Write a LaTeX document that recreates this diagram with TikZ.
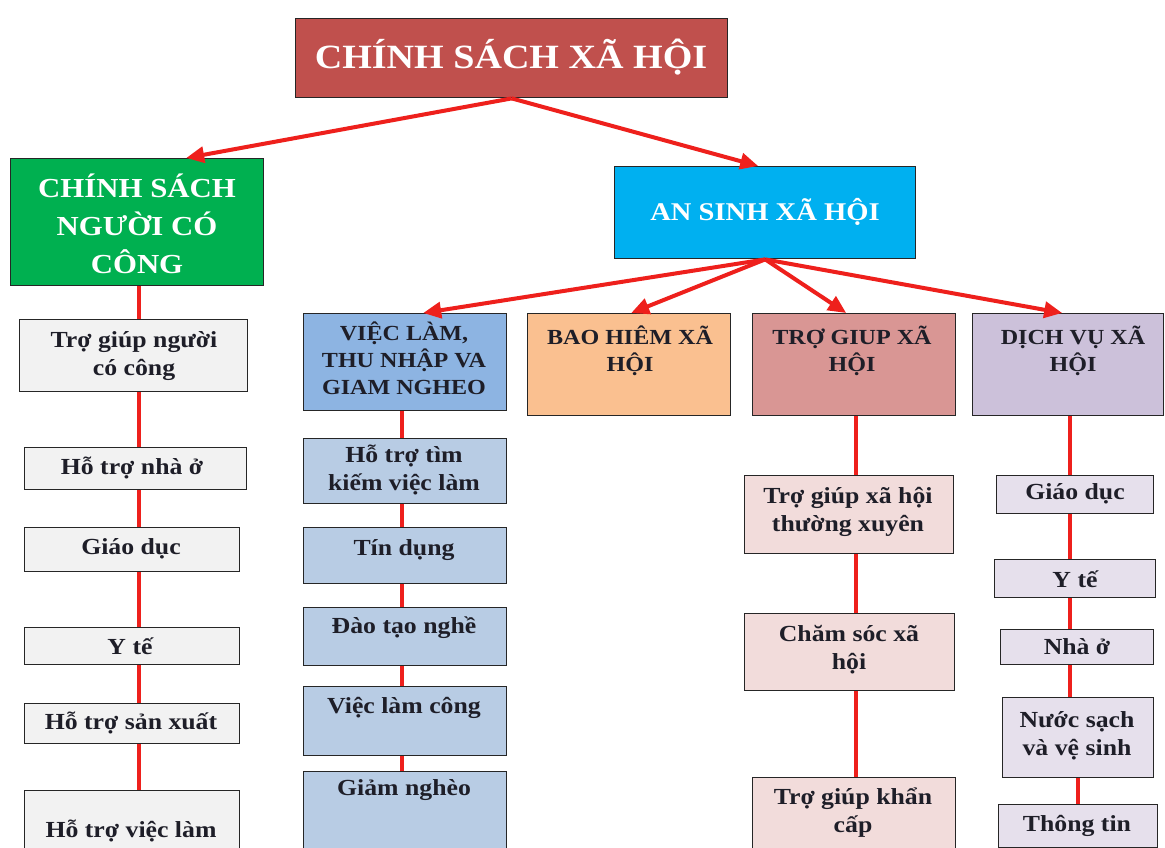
\documentclass[tikz,border=0pt]{standalone}
\usepackage{fontspec}
\setmainfont{Liberation Serif}[FakeStretch=1.12]
\usetikzlibrary{arrows.meta}
\definecolor{cTitle}{HTML}{C0504D}
\definecolor{cGreen}{HTML}{00B050}
\definecolor{cCyan}{HTML}{00B0F0}
\definecolor{cVLh}{HTML}{8DB4E2}
\definecolor{cVL}{HTML}{B8CCE4}
\definecolor{cBH}{HTML}{FAC090}
\definecolor{cTGh}{HTML}{D99694}
\definecolor{cTG}{HTML}{F2DCDB}
\definecolor{cDVh}{HTML}{CCC1DA}
\definecolor{cDV}{HTML}{E6E0EC}
\definecolor{cGray}{HTML}{F2F2F2}
\definecolor{cRed}{RGB}{238,32,28}
\definecolor{cInk}{HTML}{1E1E28}
\newcommand\mkbox[6]{\node[boxst, fill=#6, minimum width={(#4-#2)*1pt}, minimum height={(#5-#3)*1pt}] (#1) at (#2,#3) {};}
\begin{document}
\begin{tikzpicture}[x=1pt,y=-1pt,
  boxst/.style={draw=black!85, line width=1.4pt, inner sep=0pt, anchor=north west},
  ttl/.style={text=white, align=center, inner sep=0pt, font=\fontsize{34}{40}\selectfont\bfseries},
  grn/.style={text=white, align=center, inner sep=0pt, font=\fontsize{27.5}{38}\selectfont\bfseries},
  asn/.style={text=white, align=center, inner sep=0pt, font=\fontsize{25.5}{30}\selectfont\bfseries},
  sub/.style={text=cInk, align=center, inner sep=0pt, font=\fontsize{21.5}{27}\selectfont\bfseries},
  leaf/.style={text=cInk, align=center, inner sep=0pt, font=\fontsize{23}{28}\selectfont\bfseries},
  arr/.style={draw=cRed, line width=4pt, -{Triangle[length=18pt,width=16pt]}},
  vln/.style={draw=cRed, line width=4pt}]
\useasboundingbox (0,0) rectangle (1165,848);
\clip (0,0) rectangle (1165,848);
\fill[white] (0,0) rectangle (1165,848);
% boxes
\mkbox{top}{295}{18}{727}{97}{cTitle}
\mkbox{grn}{10}{158}{263}{285}{cGreen}
\mkbox{asxh}{614}{166}{915}{258}{cCyan}
\mkbox{vl}{303}{313}{506}{410}{cVLh}
\mkbox{bh}{527}{313}{730}{415}{cBH}
\mkbox{tg}{752}{313}{955}{415}{cTGh}
\mkbox{dv}{972}{313}{1163}{415}{cDVh}
% column 1
\mkbox{a1}{19}{319}{247}{391}{cGray}
\mkbox{a2}{24}{447}{246}{489}{cGray}
\mkbox{a3}{24}{527}{239}{571}{cGray}
\mkbox{a4}{24}{627}{239}{664}{cGray}
\mkbox{a5}{24}{703}{239}{743}{cGray}
\mkbox{a6}{24}{790}{239}{870}{cGray}
% column 2
\mkbox{b1}{303}{438}{506}{503}{cVL}
\mkbox{b2}{303}{527}{506}{583}{cVL}
\mkbox{b3}{303}{607}{506}{665}{cVL}
\mkbox{b4}{303}{686}{506}{755}{cVL}
\mkbox{b5}{303}{771}{506}{870}{cVL}
% column 3
\mkbox{c1}{744}{475}{953}{553}{cTG}
\mkbox{c2}{744}{613}{954}{690}{cTG}
\mkbox{c3}{752}{777}{955}{870}{cTG}
% column 4
\mkbox{d1}{996}{475}{1153}{513}{cDV}
\mkbox{d2}{994}{559}{1155}{597}{cDV}
\mkbox{d3}{1000}{629}{1153}{664}{cDV}
\mkbox{d4}{1002}{697}{1153}{777}{cDV}
\mkbox{d5}{998}{804}{1157}{847}{cDV}
% line guides
\coordinate (xa) at (139,0);
\coordinate (xb) at (402,0);
\coordinate (xc) at (856,0);
\coordinate (xd) at (1070,0);
\coordinate (xe) at (1078,0);
% vertical connectors
\draw[vln] (grn.south -| xa) -- (a1.north -| xa);
\draw[vln] (a1.south -| xa) -- (a2.north -| xa);
\draw[vln] (a2.south -| xa) -- (a3.north -| xa);
\draw[vln] (a3.south -| xa) -- (a4.north -| xa);
\draw[vln] (a4.south -| xa) -- (a5.north -| xa);
\draw[vln] (a5.south -| xa) -- (a6.north -| xa);
\draw[vln] (vl.south -| xb) -- (b1.north -| xb);
\draw[vln] (b1.south -| xb) -- (b2.north -| xb);
\draw[vln] (b2.south -| xb) -- (b3.north -| xb);
\draw[vln] (b3.south -| xb) -- (b4.north -| xb);
\draw[vln] (b4.south -| xb) -- (b5.north -| xb);
\draw[vln] (tg.south -| xc) -- (c1.north -| xc);
\draw[vln] (c1.south -| xc) -- (c2.north -| xc);
\draw[vln] (c2.south -| xc) -- (c3.north -| xc);
\draw[vln] (dv.south -| xd) -- (d1.north -| xd);
\draw[vln] (d1.south -| xd) -- (d2.north -| xd);
\draw[vln] (d2.south -| xd) -- (d3.north -| xd);
\draw[vln] (d3.south -| xd) -- (d4.north -| xd);
\draw[vln] (d4.south -| xe) -- (d5.north -| xe);
% arrows
\draw[arr] (top.south) -- ([xshift=49pt]grn.north);
\draw[arr] (top.south) -- ([xshift=-7pt]asxh.north);
\draw[arr] (asxh.south) -- ([xshift=18pt]vl.north);
\draw[arr] (asxh.south) -- ([xshift=2pt]bh.north);
\draw[arr] (asxh.south) -- ([xshift=-8pt]tg.north);
\draw[arr] (asxh.south) -- ([xshift=-6pt]dv.north);
% texts
\node[ttl] (ttop) at (511,57) {CHÍNH SÁCH XÃ HỘI};
\node[grn] (tgrn) at (137,224) {CHÍNH SÁCH\\NGƯỜI CÓ\\CÔNG};
\node[asn] (tasxh) at (765,212) {AN SINH XÃ HỘI};
\node[sub] (tvl) at (404,358) {VIỆC LÀM,\\THU NHẬP VA\\GIAM NGHEO};
\node[sub] (tbh) at (630,351) {BAO HIÊM XÃ\\HỘI};
\node[sub] (ttg) at (852,351) {TRỢ GIUP XÃ\\HỘI};
\node[sub] (tdv) at (1073,351) {DỊCH VỤ XÃ\\HỘI};
\node[leaf] (ta1) at (134,356) {Trợ giúp người\\có công};
\node[leaf] (ta2) at (132,468) {Hỗ trợ nhà ở};
\node[leaf] (ta3) at (131,549) {Giáo dục};
\node[leaf] (ta4) at (130,646) {Y tế};
\node[leaf] (ta5) at (131,723) {Hỗ trợ sản xuất};
\node[leaf] (ta6) at (131,831) {Hỗ trợ việc làm};
\node[leaf] (tb1) at (404,470) {Hỗ trợ tìm\\kiếm việc làm};
\node[leaf] (tb2) at (404,550) {Tín dụng};
\node[leaf] (tb3) at (404,628) {Đào tạo nghề};
\node[leaf] (tb4) at (404,708) {Việc làm công};
\node[leaf] (tb5) at (404,790) {Giảm nghèo};
\node[leaf] (tc1) at (848,512) {Trợ giúp xã hội\\thường xuyên};
\node[leaf] (tc2) at (849,650) {Chăm sóc xã\\hội};
\node[leaf] (tc3) at (853,813) {Trợ giúp khẩn\\cấp};
\node[leaf] (td1) at (1075,494) {Giáo dục};
\node[leaf] (td2) at (1075,579) {Y tế};
\node[leaf] (td3) at (1077,647) {Nhà ở};
\node[leaf] (td4) at (1077,736) {Nước sạch\\và vệ sinh};
\node[leaf] (td5) at (1077,826) {Thông tin};
\end{tikzpicture}
\end{document}
